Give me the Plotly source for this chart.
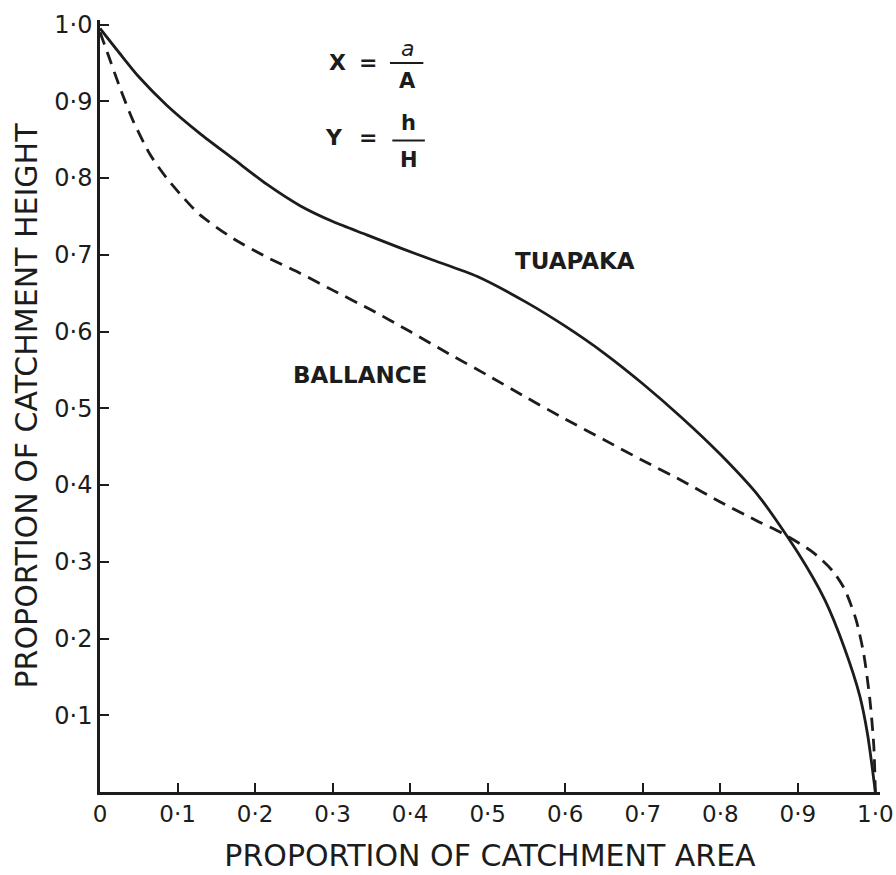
import plotly.graph_objects as go

# ---- data ----
tuapaka_x = [0, 0.025, 0.05, 0.086, 0.129, 0.172, 0.215, 0.258, 0.301, 0.344, 0.387,
             0.43, 0.486, 0.55, 0.6, 0.65, 0.7, 0.75, 0.8, 0.85, 0.9, 0.935, 0.96,
             0.98, 0.99, 1.0]
tuapaka_y = [0.995, 0.963, 0.932, 0.895, 0.858, 0.825, 0.792, 0.764, 0.743, 0.726,
             0.709, 0.693, 0.672, 0.638, 0.607, 0.572, 0.532, 0.488, 0.440, 0.385,
             0.312, 0.250, 0.188, 0.125, 0.075, 0.0]

ballance_x = [0, 0.009, 0.026, 0.043, 0.065, 0.086, 0.108, 0.129, 0.172, 0.215,
              0.258, 0.3, 0.35, 0.4, 0.45, 0.5, 0.55, 0.6, 0.65, 0.7, 0.75, 0.8,
              0.85, 0.88, 0.92, 0.945, 0.96, 0.975, 0.985, 0.993, 0.998, 1.0]
ballance_y = [0.99, 0.965, 0.917, 0.874, 0.830, 0.800, 0.774, 0.752, 0.721, 0.697,
              0.676, 0.654, 0.628, 0.600, 0.571, 0.543, 0.514, 0.486, 0.459, 0.432,
              0.406, 0.378, 0.352, 0.337, 0.312, 0.288, 0.265, 0.225, 0.180, 0.120,
              0.060, 0.0]

x_tick_vals = [0, 0.1, 0.2, 0.3, 0.4, 0.5, 0.6, 0.7, 0.8, 0.9, 1.0]
x_tick_text = ["0", "0·1", "0·2", "0·3", "0·4", "0·5", "0·6", "0·7", "0·8", "0·9", "1·0"]
y_tick_vals = [0.1, 0.2, 0.3, 0.4, 0.5, 0.6, 0.7, 0.8, 0.9, 1.0]
y_tick_text = ["0·1", "0·2", "0·3", "0·4", "0·5", "0·6", "0·7", "0·8", "0·9", "1·0"]

INK = "#1c1c1c"
FONT = "DejaVu Sans"

fig = go.Figure()
fig.add_trace(go.Scatter(
    x=tuapaka_x, y=tuapaka_y, mode="lines", name="TUAPAKA",
    line=dict(color=INK, width=2.8, shape="spline", smoothing=0.7),
))
fig.add_trace(go.Scatter(
    x=ballance_x, y=ballance_y, mode="lines", name="BALLANCE",
    line=dict(color=INK, width=2.8, dash="13px,8px", shape="spline", smoothing=0.7),
))

lbl = dict(family=FONT, size=23, color=INK, weight="bold")
annos = [
    dict(x=0.612, y=0.692, text="TUAPAKA", font=lbl),
    dict(x=0.335, y=0.544, text="BALLANCE", font=lbl),
    dict(x=0.306, y=0.950, text="X", font=dict(family=FONT, size=22, color=INK, weight="bold")),
    dict(x=0.346, y=0.951, text="=", font=dict(family=FONT, size=22, color=INK, weight="bold")),
    dict(x=0.396, y=0.969, text="<i>a</i>", font=dict(family=FONT, size=22, color=INK)),
    dict(x=0.396, y=0.926, text="A", font=dict(family=FONT, size=21, color=INK, weight="bold")),
    dict(x=0.302, y=0.853, text="Y", font=dict(family=FONT, size=22, color=INK, weight="bold")),
    dict(x=0.346, y=0.853, text="=", font=dict(family=FONT, size=22, color=INK, weight="bold")),
    dict(x=0.398, y=0.872, text="h", font=dict(family=FONT, size=21, color=INK, weight="bold")),
    dict(x=0.398, y=0.823, text="H", font=dict(family=FONT, size=21, color=INK, weight="bold")),
]
for a in annos:
    a.update(xref="x", yref="y", showarrow=False, xanchor="center", yanchor="middle")

shapes = [
    dict(type="line", xref="x", yref="y", x0=0.374, x1=0.417, y0=0.950, y1=0.950,
         line=dict(color=INK, width=2)),
    dict(type="line", xref="x", yref="y", x0=0.377, x1=0.419, y0=0.849, y1=0.849,
         line=dict(color=INK, width=2)),
]

fig.update_layout(
    width=896, height=875,
    margin=dict(l=100, r=16, t=20, b=83),
    paper_bgcolor="white", plot_bgcolor="white",
    showlegend=False,
    annotations=annos, shapes=shapes,
    font=dict(family=FONT, color=INK),
)
fig.update_xaxes(
    range=[0, 1.006], showgrid=False, zeroline=False, automargin=False,
    showline=True, linecolor=INK, linewidth=2.5,
    ticks="inside", ticklen=9, tickwidth=2, tickcolor=INK,
    tickvals=x_tick_vals, ticktext=x_tick_text,
    tickfont=dict(family=FONT, size=23, color=INK),
    title=dict(text="PROPORTION OF CATCHMENT AREA",
               font=dict(family=FONT, size=30, color=INK), standoff=19),
)
fig.update_yaxes(
    range=[0, 1.006], showgrid=False, zeroline=False, automargin=False,
    showline=True, linecolor=INK, linewidth=2.5,
    ticks="inside", ticklen=9, tickwidth=2, tickcolor=INK,
    tickvals=y_tick_vals, ticktext=y_tick_text,
    tickfont=dict(family=FONT, size=24, color=INK),
    title=dict(text="PROPORTION OF CATCHMENT HEIGHT",
               font=dict(family=FONT, size=30, color=INK), standoff=8),
)

# remove the default 8px page margin so the 896x875 figure fills the window exactly
fig.write_html("out.html", config={"displayModeBar": False},
               post_script="document.body.style.margin='0';")
